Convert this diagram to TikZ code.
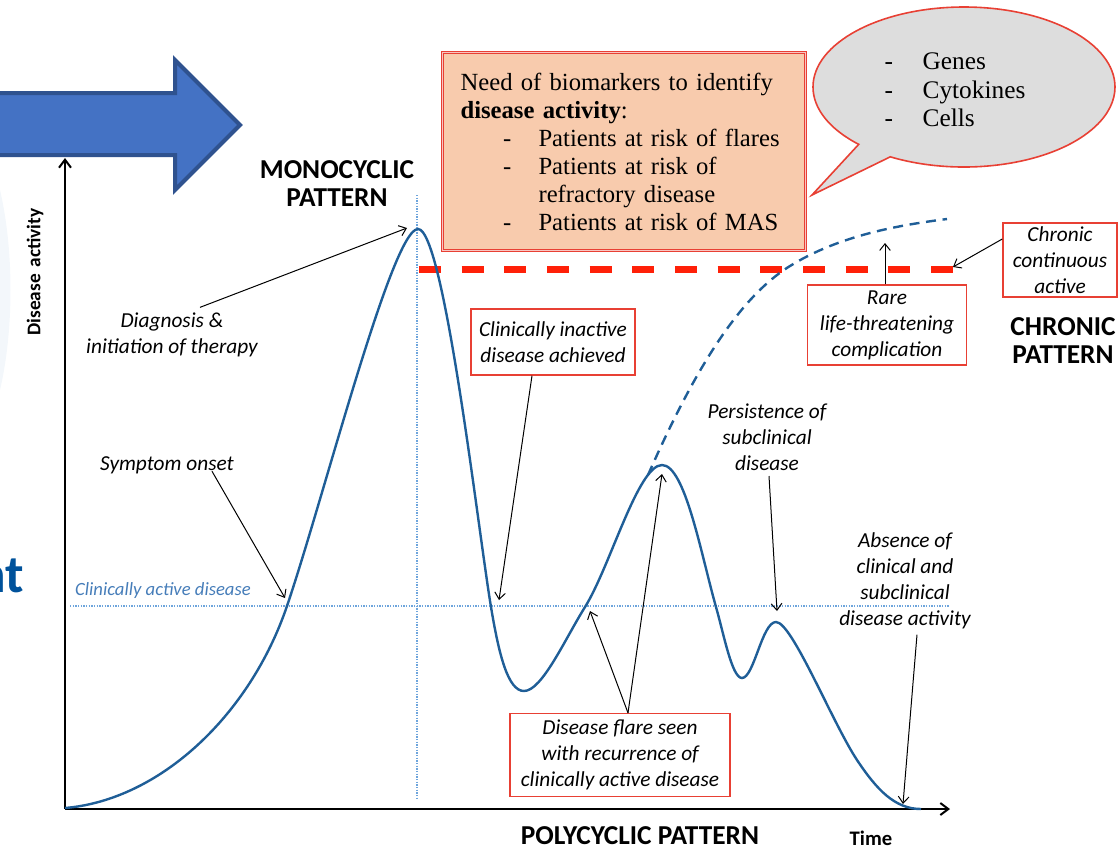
\documentclass[tikz,border=0pt]{standalone}
\usepackage{fontspec}
\setmainfont{Liberation Serif}
\newfontfamily\calibri{Carlito}
\usetikzlibrary{shapes.callouts,arrows.meta,calc}

\definecolor{curveblue}{RGB}{31,94,151}
\definecolor{dotblue}{RGB}{110,165,220}
\definecolor{labelblue}{RGB}{70,125,185}
\definecolor{boxred}{RGB}{232,64,52}
\definecolor{dashred}{RGB}{255,32,8}
\definecolor{peach}{RGB}{248,203,173}
\definecolor{bubblegray}{RGB}{221,221,221}
\definecolor{bigarrow}{RGB}{68,114,196}
\definecolor{bigarrowline}{RGB}{47,82,143}
\definecolor{ntblue}{RGB}{0,82,155}
\definecolor{faintblue}{RGB}{243,247,251}

\tikzset{
  lbl/.style={font=\calibri\itshape\fontsize{16}{19.5}\selectfont, align=center, inner sep=1pt},
  redbox/.style={lbl, draw=boxred, line width=1.1pt, fill=white, inner sep=2pt},
  caps/.style={font=\calibri\bfseries\fontsize{20.5}{21}\selectfont, align=center, inner sep=1pt},
  pointer/.style={line width=0.75pt, -{Straight Barb[length=5pt,width=8pt]}},
  axis/.style={line width=1.5pt, -{Straight Barb[length=6pt,width=9pt]}},
  dotline/.style={dotblue, line width=0.9pt, dash pattern=on 1pt off 1pt},
}

\begin{document}
\begin{tikzpicture}[x=0.75pt,y=0.75pt,yscale=-1,xscale=1]
\useasboundingbox (0,0) rectangle (1118,851);
\clip (0,0) rectangle (1118,851);

% slide leftovers
\fill[faintblue] (0,190) .. controls (14,250) and (14,330) .. (0,390) -- cycle;
\node[anchor=base east, font=\calibri\bfseries\fontsize{40}{48}\selectfont, text=ntblue, inner sep=0pt] (slidetxt) at (24,592) {nt};

% big arrow
\draw[fill=bigarrow, draw=bigarrowline, line width=3pt, line join=miter]
  (-10,93) -- (175,93) -- (175,60) -- (240,125) -- (175,190) -- (175,155) -- (-10,155) -- cycle;

% guide lines
\draw[dotline] (417,195) -- (417,800);
\draw[dotline] (70,606) -- (950,606);

% axes
\coordinate (origin) at (65,809);
\draw[axis] (origin) -- (65,158);
\draw[axis] (origin) -- (950,809);

% red dashed level
\draw[dashred, line width=5.25pt, dash pattern=on 16.5pt off 15.5pt] (419,269) -- (953,269);

% disease course
\draw[curveblue, line width=1.8pt]
  (65,808) .. controls (160,800) and (250,715) .. (287,606)
  .. controls (324,497) and (392,229) .. (418,229)
  .. controls (444,229) and (478,529) .. (491,607)
  .. controls (499,655) and (508,691) .. (524,691)
  .. controls (542,691) and (565,639) .. (585,607)
  .. controls (610,567) and (638,465) .. (662,465)
  .. controls (685,465) and (701,554) .. (716,607)
  .. controls (724,635) and (732,678) .. (742,678)
  .. controls (754,678) and (762,622) .. (776,622)
  .. controls (792,622) and (832,722) .. (857,760)
  .. controls (877,790) and (895,809) .. (921,809);
% chronic branch
\draw[curveblue, line width=1.8pt, dash pattern=on 7.5pt off 5pt]
  (648,475) .. controls (690,380) and (735,300) .. (790,266)
  .. controls (840,235) and (900,225) .. (947,219);

% points the labels refer to
\coordinate (peakone) at (407,228);
\coordinate (onset) at (285,598);
\coordinate (inactpt) at (499,600);
\coordinate (flareone) at (590,611);
\coordinate (flaretwo) at (662,474);
\coordinate (subpt) at (777,611);
\coordinate (endpt) at (903,804);
\coordinate (rarept) at (885,243);
\coordinate (chronpt) at (953,267);

% boxes
\node[anchor=north west, draw=boxred, double=white!70!boxred, double distance=1.2pt, line width=0.8pt,
  fill=peach, text width=245.25pt, inner xsep=13.5pt, minimum height=148.5pt, align=left,
  font=\fontsize{18.5}{21}\selectfont] (need) at (442,52)
  {Need of biomarkers to identify\\
   \textbf{disease activity}:\\
   \hspace*{32pt}\makebox[26.5pt][l]{-}Patients at risk of flares\\
   \hspace*{32pt}\makebox[26.5pt][l]{-}Patients at risk of\\
   \hspace*{58.5pt}refractory disease\\
   \hspace*{32pt}\makebox[26.5pt][l]{-}Patients at risk of MAS};

\node[ellipse callout, draw=boxred, fill=bubblegray, line width=1.2pt,
  minimum width=226.5pt, minimum height=120pt,
  callout absolute pointer={(812,195)}] (bubble) at (964,87) {};
\node[align=left, font=\fontsize{19}{21.4}\selectfont] (bubtxt) at (955,90)
  {\makebox[28.5pt][l]{-}Genes\\
   \makebox[28.5pt][l]{-}Cytokines\\
   \makebox[28.5pt][l]{-}Cells};

\node[redbox, minimum width=123pt, minimum height=49.5pt] (inactive) at (553,342) {Clinically inactive\\disease achieved};
\node[redbox, minimum width=165pt, minimum height=62pt] (flare) at (620,755) {Disease flare seen\\with recurrence of\\clinically active disease};
\node[redbox, minimum width=119pt, minimum height=60pt] (rare) at (887,325) {Rare\\life-threatening\\complication};
\node[redbox, minimum width=85.5pt, minimum height=55.5pt] (chronic) at (1060,260) {Chronic\\continuous\\active};

% free labels
\node[lbl] (diag) at (172,335) {Diagnosis \&\\initiation of therapy};
\node[lbl] (symptom) at (167,465) {Symptom onset};
\node[lbl] (persist) at (767,437) {Persistence of\\subclinical\\disease};
\node[lbl] (absence) at (905,581) {Absence of\\clinical and\\subclinical\\disease activity};
\node[lbl, text=labelblue, font=\calibri\itshape\fontsize{14}{17}\selectfont] (activelbl) at (163,591) {Clinically active disease};

\node[caps] (mono) at (337,184) {MONOCYCLIC\\PATTERN};
\node[caps] (chronpat) at (1063,341) {CHRONIC\\PATTERN};
\node[caps] (poly) at (640,836) {POLYCYCLIC PATTERN};
\node[font=\calibri\bfseries\fontsize{15.5}{18}\selectfont] (time) at (871,838) {Time};
\node[rotate=90, font=\calibri\bfseries\fontsize{14.5}{17}\selectfont] (yaxis) at (35,272) {Disease\hspace{0.35em}activity};

% pointers
\draw[pointer] ($(diag.north)+(28,-4)$) -- (peakone);
\draw[pointer] ($(symptom.south)+(45,-4)$) -- (onset);
\draw[pointer] ($(inactive.south)+(-21,0)$) -- (inactpt);
\draw[pointer] ($(flare.north)+(8,0)$) -- (flareone);
\draw[pointer] ($(flare.north)+(8,0)$) -- (flaretwo);
\draw[pointer] ($(persist.south)+(2,4)$) -- (subpt);
\draw[pointer] ($(absence.south)+(12,4)$) -- (endpt);
\draw[pointer] ($(rare.north)+(-2,0)$) -- (rarept);
\draw[pointer] ($(chronic.west)+(0,-21)$) -- (chronpt);

\end{tikzpicture}
\end{document}
